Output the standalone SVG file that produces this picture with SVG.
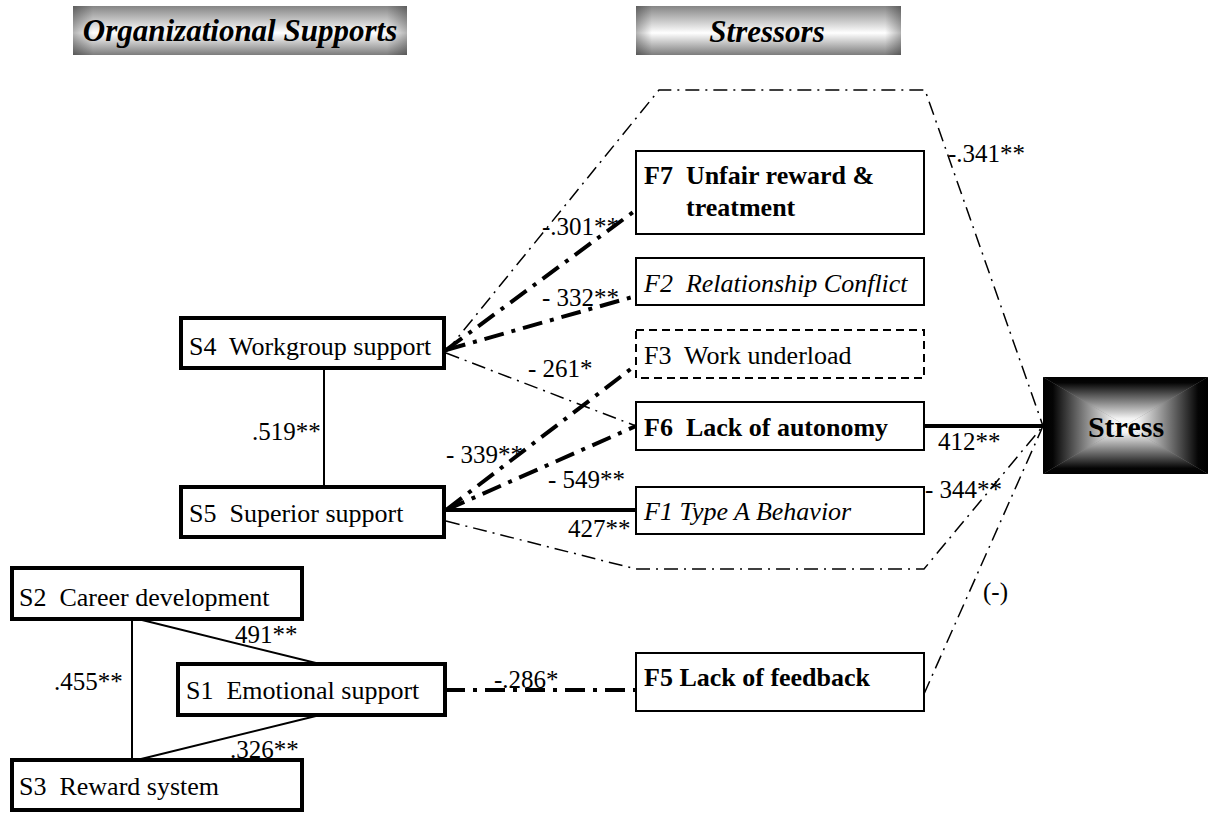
<svg xmlns="http://www.w3.org/2000/svg" width="1210" height="814" viewBox="0 0 1210 814">
<style>
.t{font-family:"Liberation Serif","Times New Roman",serif;font-size:26px;fill:#000;white-space:pre}
.b{font-weight:bold}
.i{font-style:italic}
.lbl{font-family:"Liberation Serif","Times New Roman",serif;font-size:25px;fill:#000;white-space:pre}
.hd{font-family:"Liberation Serif","Times New Roman",serif;font-size:31px;font-weight:bold;font-style:italic;fill:#000}
.ns{fill:#fff;stroke:#000;stroke-width:4}
.nf{fill:#fff;stroke:#000;stroke-width:2}
.dash{stroke-dasharray:8 5}
.thick{fill:none;stroke:#000;stroke-width:4;stroke-dasharray:20 8 4 8}
.thin{fill:none;stroke:#000;stroke-width:1.5;stroke-dasharray:14 6 2 6}
.sol{fill:none;stroke:#000;stroke-width:2}
.solT{fill:none;stroke:#000;stroke-width:4}
</style>
<defs>
<linearGradient id="hdr" x1="0" y1="0" x2="0" y2="1">
<stop offset="0" stop-color="#858585"/>
<stop offset="0.55" stop-color="#ffffff"/>
<stop offset="1" stop-color="#7c7c7c"/>
</linearGradient>
<linearGradient id="hdrSide" x1="0" y1="0" x2="1" y2="0">
<stop offset="0" stop-color="#000" stop-opacity="0.3"/>
<stop offset="0.06" stop-color="#000" stop-opacity="0"/>
<stop offset="0.94" stop-color="#000" stop-opacity="0"/>
<stop offset="1" stop-color="#000" stop-opacity="0.3"/>
</linearGradient>
<linearGradient id="gT" gradientUnits="userSpaceOnUse" x1="0" y1="377" x2="0" y2="425.5">
<stop offset="0" stop-color="#000"/><stop offset="0.12" stop-color="#050505"/><stop offset="0.85" stop-color="#f2f2f2"/><stop offset="1" stop-color="#fff"/>
</linearGradient>
<linearGradient id="gB" gradientUnits="userSpaceOnUse" x1="0" y1="474" x2="0" y2="425.5">
<stop offset="0" stop-color="#000"/><stop offset="0.12" stop-color="#050505"/><stop offset="0.85" stop-color="#f2f2f2"/><stop offset="1" stop-color="#fff"/>
</linearGradient>
<linearGradient id="gL" gradientUnits="userSpaceOnUse" x1="1043" y1="0" x2="1125.5" y2="0">
<stop offset="0" stop-color="#000"/><stop offset="0.12" stop-color="#050505"/><stop offset="0.85" stop-color="#f2f2f2"/><stop offset="1" stop-color="#fff"/>
</linearGradient>
<linearGradient id="gR" gradientUnits="userSpaceOnUse" x1="1208" y1="0" x2="1125.5" y2="0">
<stop offset="0" stop-color="#000"/><stop offset="0.12" stop-color="#050505"/><stop offset="0.85" stop-color="#f2f2f2"/><stop offset="1" stop-color="#fff"/>
</linearGradient>
</defs>
<rect width="1210" height="814" fill="#fff"/>

<g id="header-org">
<rect x="73" y="6" width="334" height="49" fill="url(#hdr)"/>
<rect x="73" y="6" width="334" height="49" fill="url(#hdrSide)"/>
<text class="hd" x="240" y="41" text-anchor="middle">Organizational Supports</text>
</g>
<g id="header-stressors">
<rect x="636" y="6" width="265" height="49" fill="url(#hdr)"/>
<rect x="636" y="6" width="265" height="49" fill="url(#hdrSide)"/>
<text class="hd" x="767" y="42" text-anchor="middle">Stressors</text>
</g>

<g id="connectors">
<line class="sol" x1="324" y1="368" x2="324" y2="487"/>
<line class="sol" x1="132" y1="619" x2="132" y2="760"/>
<line class="sol" x1="138" y1="619" x2="320" y2="664"/>
<line class="sol" x1="137" y1="760" x2="320" y2="715"/>
<polyline class="thin" points="446,352 659,90 925,90 1043,426"/>
<line class="thick" x1="446" y1="350" x2="636" y2="210"/>
<line class="thick" x1="446" y1="350" x2="636" y2="296"/>
<line class="thin" x1="446" y1="353" x2="636" y2="426"/>
<line class="thick" x1="446" y1="510" x2="636" y2="365"/>
<line class="thick" x1="446" y1="510" x2="636" y2="426"/>
<line class="solT" x1="446" y1="510" x2="636" y2="510"/>
<polyline class="thin" points="446,521 636,569 924,569 1043,426"/>
<line class="solT" x1="924" y1="426" x2="1043" y2="426"/>
<line class="thin" x1="924" y1="694" x2="1043" y2="426"/>
<line class="thick" x1="445" y1="690" x2="636" y2="690"/>
</g>

<g id="S4">
<rect class="ns" x="181" y="318" width="263" height="50"/>
<text class="t" x="189" y="355">S4  Workgroup support</text>
</g>
<g id="S5">
<rect class="ns" x="181" y="487" width="263" height="50"/>
<text class="t" x="189" y="522">S5  Superior support</text>
</g>
<g id="S2">
<rect class="ns" x="12" y="568" width="290" height="51"/>
<text class="t" x="19" y="606">S2  Career development</text>
</g>
<g id="S1">
<rect class="ns" x="178" y="664" width="267" height="51"/>
<text class="t" x="186" y="699">S1  Emotional support</text>
</g>
<g id="S3">
<rect class="ns" x="12" y="760" width="290" height="50"/>
<text class="t" x="19" y="795">S3  Reward system</text>
</g>

<g id="F7">
<rect class="nf" x="636" y="151" width="288" height="83"/>
<text class="t b" x="644" y="184">F7  Unfair reward &amp;</text>
<text class="t b" x="686" y="216">treatment</text>
</g>
<g id="F2">
<rect class="nf" x="636" y="258" width="288" height="47"/>
<text class="t i" x="644" y="292">F2  Relationship Conflict</text>
</g>
<g id="F3">
<rect class="nf dash" x="636" y="330" width="288" height="48"/>
<text class="t" x="644" y="364">F3  Work underload</text>
</g>
<g id="F6">
<rect class="nf" x="636" y="402" width="288" height="48"/>
<text class="t b" x="644" y="436">F6  Lack of autonomy</text>
</g>
<g id="F1">
<rect class="nf" x="636" y="487" width="288" height="47"/>
<text class="t i" x="644" y="520">F1 Type A Behavior</text>
</g>
<g id="F5">
<rect class="nf" x="636" y="653" width="288" height="58"/>
<text class="t b" x="644" y="686">F5 Lack of feedback</text>
</g>

<g id="Stress">
<rect x="1043" y="377" width="165" height="97" fill="#888"/>
<polygon points="1043,377 1208,377 1125.5,425.5" fill="url(#gT)"/>
<polygon points="1043,474 1208,474 1125.5,425.5" fill="url(#gB)"/>
<polygon points="1043,377 1043,474 1125.5,425.5" fill="url(#gL)"/>
<polygon points="1208,377 1208,474 1125.5,425.5" fill="url(#gR)"/>
<text class="t b" x="1126" y="437" text-anchor="middle" style="font-size:30px">Stress</text>
</g>

<g id="labels">
<text class="lbl" x="252" y="440">.519**</text>
<text class="lbl" x="54" y="690">.455**</text>
<text class="lbl" x="235" y="643">491**</text>
<text class="lbl" x="230" y="758">.326**</text>
<text class="lbl" x="542" y="235">-.301**</text>
<text class="lbl" x="542" y="306">- 332**</text>
<text class="lbl" x="528" y="377">- 261*</text>
<text class="lbl" x="446" y="463">- 339**</text>
<text class="lbl" x="548" y="488">- 549**</text>
<text class="lbl" x="568" y="537">427**</text>
<text class="lbl" x="938" y="450">412**</text>
<text class="lbl" x="925" y="498">- 344**</text>
<text class="lbl" x="948" y="162">-.341**</text>
<text class="lbl" x="983" y="600">(-)</text>
<text class="lbl" x="494" y="688">-.286*</text>
</g>
</svg>
